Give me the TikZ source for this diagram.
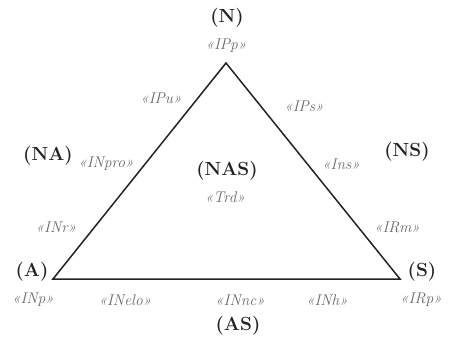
\documentclass[tikz,border=0pt]{standalone}
\usepackage{tikz}
\definecolor{labgray}{RGB}{105,105,105}
\definecolor{txtdark}{RGB}{35,35,35}
\tikzset{
  corner/.style={font=\fontsize{19}{21}\selectfont\bfseries, text=txtdark, inner sep=0pt},
  tag/.style={font=\fontsize{15.5}{17}\selectfont\itshape, text=labgray, inner sep=0pt}
}
\begin{document}
\begin{tikzpicture}[x=1pt,y=-1pt]
\useasboundingbox (0,0) rectangle (453,343);

\coordinate (vN) at (226,63);
\coordinate (vA) at (53,279);
\coordinate (vS) at (400,279);
\draw[line width=1.5pt, txtdark, line join=miter] (vA) -- (vN) -- (vS) -- cycle;

\node[corner] (N) at (227,18) {(N)};
\node[corner] (NA) at (48,156) {(NA)};
\node[corner] (NS) at (407,152) {(NS)};
\node[corner] (NAS) at (227,171) {(NAS)};
\node[corner] (A) at (32,272) {(A)};
\node[corner] (S) at (422,272) {(S)};
\node[corner] (AS) at (238,326) {(AS)};

\node[tag] (IPp) at (226,46) {«IPp»};
\node[tag] (IPu) at (161,98) {«IPu»};
\node[tag] (IPs) at (304,106) {«IPs»};
\node[tag] (INpro) at (106,164) {«INpro»};
\node[tag] (Ins) at (341,164) {«Ins»};
\node[tag] (Trd) at (225,197) {«Trd»};
\node[tag] (INr) at (56,227) {«INr»};
\node[tag] (IRm) at (397,227) {«IRm»};
\node[tag] (INp) at (33,300) {«INp»};
\node[tag] (INelo) at (125,300) {«INelo»};
\node[tag] (INnc) at (240,300) {«INnc»};
\node[tag] (INh) at (327,300) {«INh»};
\node[tag] (IRp) at (421,300) {«IRp»};
\end{tikzpicture}
\end{document}
